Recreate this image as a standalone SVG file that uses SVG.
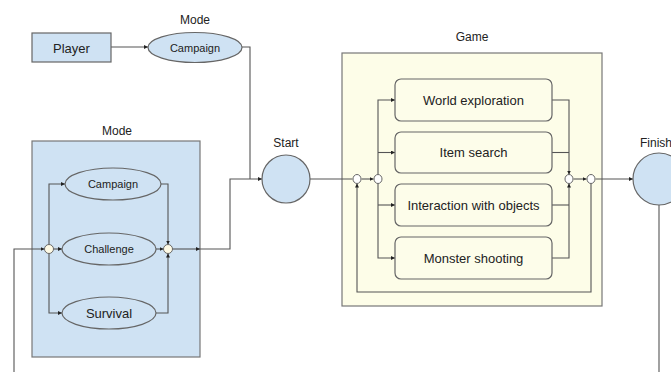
<svg xmlns="http://www.w3.org/2000/svg" width="671" height="372" viewBox="0 0 671 372">
  <style>
    .lbl { font-family: "Liberation Sans", Arial, sans-serif; fill: #222; text-anchor: middle; }
    .node { fill: #cfe2f3; stroke: #666; stroke-width: 1.2; }
    .act { fill: #fdfdea; stroke: #666; stroke-width: 1.2; }
    .jn { fill: #fffbe6; stroke: #666; stroke-width: 1; }
    .jw { fill: #ffffff; stroke: #666; stroke-width: 1; }
    .wire { fill: none; stroke: #555; stroke-width: 1.1; }
  </style>
  <defs>
    <marker id="arr" viewBox="0 0 6 6" refX="6" refY="3" markerWidth="4" markerHeight="4" orient="auto" markerUnits="userSpaceOnUse">
      <path d="M0,0 L6,3 L0,6 z" fill="#222"/>
    </marker>
  </defs>
  <rect width="671" height="372" fill="#ffffff"/>

  <!-- containers -->
  <g id="mode-box">
    <rect x="32" y="141" width="168" height="216" fill="#cfe2f3" stroke="#777" stroke-width="1.2"/>
    <text class="lbl" x="117" y="135" font-size="12">Mode</text>
  </g>
  <g id="game-box">
    <rect x="342" y="53" width="260" height="253" fill="#fdfde8" stroke="#777" stroke-width="1.2"/>
    <text class="lbl" x="472" y="41" font-size="12">Game</text>
  </g>

  <!-- connectors -->
  <g id="connectors">
    <path class="wire" d="M111,47 H148" marker-end="url(#arr)"/>
    <path class="wire" d="M242,47 H250 V179"/>
    <!-- mode fan-out -->
    <path class="wire" d="M14,372 V249 H44.5" marker-end="url(#arr)"/>
    <path class="wire" d="M49,244.5 V184 H65" marker-end="url(#arr)"/>
    <path class="wire" d="M53.5,249 H62" marker-end="url(#arr)"/>
    <path class="wire" d="M49,253.5 V313 H62" marker-end="url(#arr)"/>
    <path class="wire" d="M161,184 H168 V244.5" marker-end="url(#arr)"/>
    <path class="wire" d="M156,249 H163.5" marker-end="url(#arr)"/>
    <path class="wire" d="M156,313 H168 V253.5" marker-end="url(#arr)"/>
    <path class="wire" d="M172.5,249 H200" marker-end="url(#arr)"/>
    <path class="wire" d="M200,249 H230 V179 H262" marker-end="url(#arr)"/>
    <!-- game fan-out -->
    <path class="wire" d="M310,179 H352.5"/>
    <path class="wire" d="M361.5,179 H373.5" marker-end="url(#arr)"/>
    <path class="wire" d="M378,174.5 V100 H395" marker-end="url(#arr)"/>
    <path class="wire" d="M378,152.5 H395" marker-end="url(#arr)"/>
    <path class="wire" d="M378,183.5 V258 H395" marker-end="url(#arr)"/>
    <path class="wire" d="M378,205 H395" marker-end="url(#arr)"/>
    <path class="wire" d="M552,100 H569 V174.5" marker-end="url(#arr)"/>
    <path class="wire" d="M552,152.5 H569"/>
    <path class="wire" d="M552,205 H569"/>
    <path class="wire" d="M552,258 H569 V183.5" marker-end="url(#arr)"/>
    <path class="wire" d="M573.5,179 H586.5" marker-end="url(#arr)"/>
    <path class="wire" d="M595.5,179 H633" marker-end="url(#arr)"/>
    <path class="wire" d="M591,183.5 V292 H357 V183.5" marker-end="url(#arr)"/>
    <path class="wire" d="M659,205 V372"/>
  </g>

  <!-- nodes -->
  <g id="player">
    <rect class="node" x="32" y="33" width="79" height="29"/>
    <text class="lbl" x="71.5" y="52.5" font-size="13">Player</text>
  </g>
  <g id="mode-campaign-top">
    <text class="lbl" x="195" y="24" font-size="12">Mode</text>
    <ellipse class="node" cx="195" cy="47.5" rx="47" ry="15"/>
    <text class="lbl" x="195" y="51.5" font-size="11">Campaign</text>
  </g>
  <g id="mode-campaign">
    <ellipse class="node" cx="113" cy="184" rx="48" ry="16"/>
    <text class="lbl" x="113" y="188" font-size="11">Campaign</text>
  </g>
  <g id="mode-challenge">
    <ellipse class="node" cx="109" cy="249" rx="47" ry="16"/>
    <text class="lbl" x="109" y="253" font-size="11">Challenge</text>
  </g>
  <g id="mode-survival">
    <ellipse class="node" cx="109" cy="313" rx="47" ry="16"/>
    <text class="lbl" x="109" y="318" font-size="13">Survival</text>
  </g>
  <g id="mode-split"><circle class="jn" cx="49" cy="249" r="4.5"/></g>
  <g id="mode-merge"><circle class="jn" cx="168" cy="249" r="4.5"/></g>

  <g id="start">
    <text class="lbl" x="286" y="147" font-size="12">Start</text>
    <circle class="node" cx="286" cy="179" r="24"/>
  </g>

  <g id="game-loop-in"><ellipse class="jw" cx="357" cy="179" rx="4" ry="4.5"/></g>
  <g id="game-split"><ellipse class="jw" cx="378" cy="179" rx="4" ry="4.5"/></g>
  <g id="world-exploration">
    <rect class="act" x="395" y="79" width="157" height="42" rx="6"/>
    <text class="lbl" x="473.5" y="105" font-size="13">World exploration</text>
  </g>
  <g id="item-search">
    <rect class="act" x="395" y="132" width="157" height="41" rx="6"/>
    <text class="lbl" x="473.5" y="157" font-size="13">Item search</text>
  </g>
  <g id="interaction">
    <rect class="act" x="395" y="184" width="157" height="42" rx="6"/>
    <text class="lbl" x="473.5" y="210" font-size="13">Interaction with objects</text>
  </g>
  <g id="monster-shooting">
    <rect class="act" x="395" y="237" width="157" height="42" rx="6"/>
    <text class="lbl" x="473.5" y="263" font-size="13">Monster shooting</text>
  </g>
  <g id="game-merge"><ellipse class="jw" cx="569" cy="179" rx="4" ry="4.5"/></g>
  <g id="game-loop-out"><ellipse class="jw" cx="591" cy="179" rx="4" ry="4.5"/></g>

  <g id="finish">
    <text class="lbl" x="640" y="147" font-size="12" text-anchor="start" style="text-anchor:start">Finish</text>
    <circle class="node" cx="659" cy="179" r="26"/>
  </g>
</svg>
